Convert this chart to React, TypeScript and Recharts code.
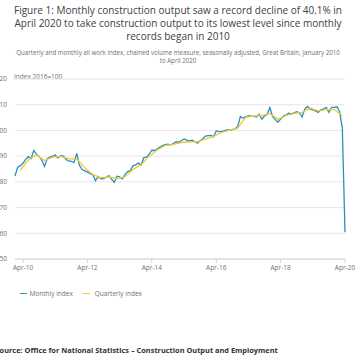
import React from "react";
import { LineChart, Line, XAxis, YAxis, CartesianGrid } from "recharts";

const monthNames = ["Jan","Feb","Mar","Apr","May","Jun","Jul","Aug","Sep","Oct","Nov","Dec"];
const startYear = 2010;

const monthlyIndex = [
  82.3, 85.7, 86.3, 87.2, 88.8, 89.8, 89.0, 92.2, 90.8, 89.8, 88.5, 86.0,
  89.0, 89.6, 90.0, 90.4, 89.3, 90.2, 90.0, 88.7, 88.2, 88.0, 87.5, 91.1,
  86.5, 84.8, 84.3, 83.8, 83.2, 82.8, 80.5, 82.0, 81.2, 81.3, 81.8, 82.4,
  81.0, 79.8, 82.2, 81.9, 81.2, 82.8, 84.0, 84.4, 86.3, 86.6, 87.3, 86.6,
  89.4, 89.6, 90.8, 92.3, 92.2, 92.8, 93.5, 94.1, 94.5, 94.7, 94.3, 94.9,
  95.5, 95.5, 96.0, 96.7, 96.2, 95.9, 96.2, 95.7, 95.0, 96.0, 96.8, 97.8,
  98.0, 98.1, 97.5, 99.8, 99.5, 99.6, 99.8, 100.2, 100.1, 100.3, 100.6, 101.5,
  105.4, 104.8, 105.3, 105.7, 105.6, 105.5, 105.2, 106.3, 104.4, 105.6, 106.3, 108.9,
  105.4, 104.2, 103.2, 104.4, 105.6, 106.0, 106.7, 106.4, 106.8, 107.3, 106.9, 105.2,
  108.3, 109.3, 108.3, 108.0, 107.6, 107.0, 108.0, 108.4, 109.0, 107.0, 109.0, 109.0,
  109.2, 107.3, 101.0, 60.4,
];

// quarterly index, plotted at the last month of each quarter (Q1 2010 .. Q1 2020)
const quarterlyIndex = [
  84.6, 88.6, 90.5, 88.3,
  89.6, 89.9, 88.9, 88.9,
  85.5, 82.9, 81.6, 81.9,
  81.2, 82.0, 84.8, 86.7,
  89.9, 92.4, 94.2, 94.6,
  95.3, 95.6, 95.6, 96.6,
  97.7, 99.2, 100.1, 100.9,
  105.2, 105.6, 105.8, 106.6,
  104.3, 105.8, 106.6, 107.0,
  108.7, 107.6, 108.1, 108.2,
  105.6,
];

const xTickLabels = ["Apr-10", "Apr-12", "Apr-14", "Apr-16", "Apr-18", "Apr-20"];
const yTicks = [50, 60, 70, 80, 90, 100, 110, 120];

const labelFor = (i: number) =>
  `${monthNames[i % 12]}-${String((startYear + Math.floor(i / 12)) % 100).padStart(2, "0")}`;

const data = monthlyIndex.map((v, i) => ({
  idx: i,
  label: labelFor(i),
  monthly: v,
  quarterly: i % 3 === 2 ? quarterlyIndex[(i - 2) / 3] ?? null : null,
}));

const xTicks = xTickLabels.map((l) => data.findIndex((d) => d.label === l));

const BLUE = "#2a8fc1";
const YELLOW = "#eec938";
const FONT = "'Open Sans', sans-serif";

export default function App() {
  return (
    <div
      style={{
        position: "absolute",
        left: 0,
        top: 0,
        width: 356,
        height: 364,
        overflow: "hidden",
        background: "#fff",
        fontFamily: FONT,
      }}
    >
      <div
        style={{
          position: "absolute",
          left: 0,
          top: 3.5,
          width: 356,
          textAlign: "center",
          fontSize: 10,
          lineHeight: "13.3px",
          color: "#414042",
        }}
      >
        Figure 1: Monthly construction output saw a record decline of 40.1% in
        <br />
        April 2020 to take construction output to its lowest level since monthly
        <br />
        records began in 2010
      </div>
      <div
        style={{
          position: "absolute",
          left: 0,
          top: 48.5,
          width: 356,
          textAlign: "center",
          fontSize: 6.2,
          lineHeight: "8px",
          color: "#707070",
        }}
      >
        Quarterly and monthly all work index, chained volume measure, seasonally adjusted, Great Britain, January 2010
        <br />
        to April 2020
      </div>
      <div
        style={{
          position: "absolute",
          left: 14,
          top: 71.5,
          fontSize: 6.5,
          color: "#707070",
        }}
      >
        Index 2016=100
      </div>
      <div style={{ position: "absolute", left: -15, top: 0 }}>
        <LineChart
          width={380}
          height={300}
          data={data}
          margin={{ top: 79, right: 20, bottom: 21, left: 0 }}
        >
          <CartesianGrid vertical={false} stroke="#e6e6e6" strokeWidth={1} />
          <XAxis
            dataKey="idx"
            type="number"
            domain={[0, monthlyIndex.length - 1]}
            ticks={xTicks}
            tickFormatter={(v: number) => data[v]?.label ?? ""}
            height={20}
            stroke="#c9d6e2"
            tickSize={4}
            tickMargin={2}
            tick={{ fontSize: 6.5, fill: "#707070", fontFamily: FONT }}
            interval={0}
          />
          <YAxis
            domain={[50, 120]}
            ticks={yTicks}
            width={30}
            axisLine={false}
            tickLine={false}
            tickSize={0}
            tickMargin={8}
            tick={{ fontSize: 6.5, fill: "#707070", fontFamily: FONT }}
            interval={0}
          />
          <Line
            type="linear"
            dataKey="monthly"
            stroke={BLUE}
            strokeWidth={1.3}
            dot={false}
            isAnimationActive={false}
          />
          <Line
            type="linear"
            dataKey="quarterly"
            stroke={YELLOW}
            strokeWidth={1.3}
            dot={false}
            connectNulls
            isAnimationActive={false}
          />
        </LineChart>
      </div>
      <div
        style={{
          position: "absolute",
          left: 20,
          top: 289,
          display: "flex",
          alignItems: "center",
          fontSize: 6.5,
          color: "#707070",
          lineHeight: "9px",
        }}
      >
        <span style={{ display: "inline-block", width: 7, height: 1.8, background: BLUE, marginRight: 2.5 }} />
        <span>Monthly index</span>
        <span style={{ display: "inline-block", width: 7, height: 1.8, background: YELLOW, marginLeft: 10, marginRight: 5 }} />
        <span>Quarterly index</span>
      </div>
      <div
        style={{
          position: "absolute",
          left: -4.5,
          top: 345,
          fontSize: 7.4,
          fontWeight: "bold",
          color: "#323132",
          whiteSpace: "nowrap",
        }}
      >
        Source: Office for National Statistics – Construction Output and Employment
      </div>
    </div>
  );
}
